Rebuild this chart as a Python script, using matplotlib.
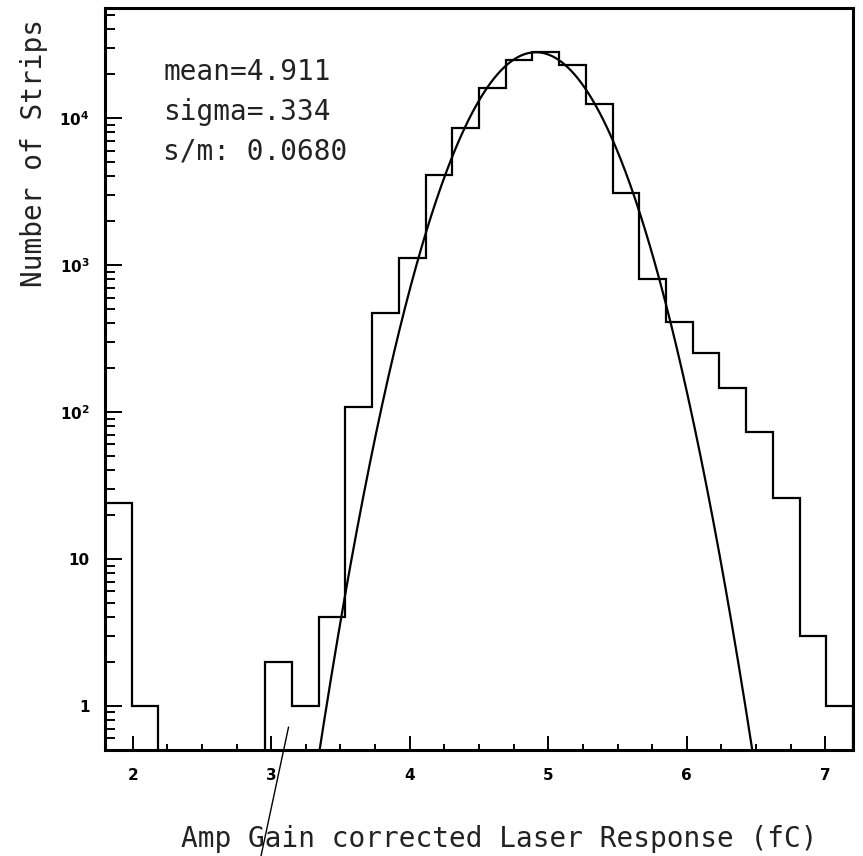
import numpy as np
import matplotlib
matplotlib.use("Agg")
import matplotlib.pyplot as plt
from matplotlib.ticker import FixedLocator, MultipleLocator, LogLocator, NullFormatter

# ---- data ----
bin_lo, bin_hi, n_bins = 1.8, 7.2, 28
counts = [24, 1, 0, 0, 0, 0, 2, 1, 4, 108, 469, 1110, 4100, 8600, 16000,
          24600, 28000, 23000, 12400, 3100, 800, 407, 250, 145, 73, 26, 3, 1]
fit_mean = 4.911
fit_sigma = 0.334
fit_amp = 28000
stat_lines = ["mean=4.911", "sigma=.334", "s/m: 0.0680"]
xticks = [2, 3, 4, 5, 6, 7]
yticks = [1, 10, 100, 1000, 10000]
ytick_labels = ["1", "10", r"$\mathbf{10^{2}}$", r"$\mathbf{10^{3}}$", r"$\mathbf{10^{4}}$"]
xlabel = "Amp Gain corrected Laser Response (fC)"
ylabel = "Number of Strips"

W, H = 863, 856
fig = plt.figure(figsize=(W / 100, H / 100), dpi=100)
ax = fig.add_axes([105 / W, 1 - 750 / H, (853 - 105) / W, (750 - 8) / H])

edges = np.linspace(bin_lo, bin_hi, n_bins + 1)
vals = np.maximum(np.array(counts, dtype=float), 1e-3)
ax.stairs(vals, edges, baseline=1e-3, color="black", lw=1.6)

xs = np.linspace(3.0, 7.0, 800)
ys = fit_amp * np.exp(-0.5 * ((xs - fit_mean) / fit_sigma) ** 2)
ax.plot(xs, ys, color="black", lw=1.6)

ax.set_yscale("log")
ax.set_xlim(bin_lo, bin_hi)
ax.set_ylim(0.5, 5.6e4)

ax.xaxis.set_major_locator(FixedLocator(xticks))
ax.xaxis.set_minor_locator(MultipleLocator(0.25))
ax.set_xticklabels([str(t) for t in xticks])
ax.yaxis.set_major_locator(FixedLocator(yticks))
ax.set_yticklabels(ytick_labels)
ax.yaxis.set_minor_locator(LogLocator(base=10, subs=np.arange(2, 10)))
ax.yaxis.set_minor_formatter(NullFormatter())

ax.tick_params(axis="both", which="both", direction="in", top=False, right=False,
               width=1.4, color="black")
ax.tick_params(axis="x", which="major", length=10, pad=13, labelsize=11)
ax.tick_params(axis="x", which="minor", length=4)
ax.tick_params(axis="y", which="major", length=12, pad=11, labelsize=11)
ax.tick_params(axis="y", which="minor", length=7)
for lab in ax.get_xticklabels() + ax.get_yticklabels():
    lab.set_fontweight("bold")

for s in ax.spines.values():
    s.set_linewidth(2.2)
    s.set_color("black")

mono = "DejaVu Sans Mono"
tc = "#222222"
fig.text(499 / W, 1 - 847 / H, xlabel, ha="center", va="baseline",
         fontsize=20, family=mono, color=tc)
fig.text(34 / W, 1 - 153 / H, ylabel, ha="center", va="center", rotation=90,
         fontsize=20, family=mono, color=tc)
for i, line in enumerate(stat_lines):
    fig.text(163 / W, 1 - (80 + 40 * i) / H, line, ha="left", va="baseline",
             fontsize=20, family=mono, color=tc)

ax.annotate("", xy=(3.125, 0.716), xycoords="data",
            xytext=(261 / W, 0.0), textcoords="figure fraction",
            arrowprops=dict(arrowstyle="-", lw=1.0, color="black",
                            shrinkA=0, shrinkB=0),
            annotation_clip=False)

fig.savefig("out.png", dpi=100)
